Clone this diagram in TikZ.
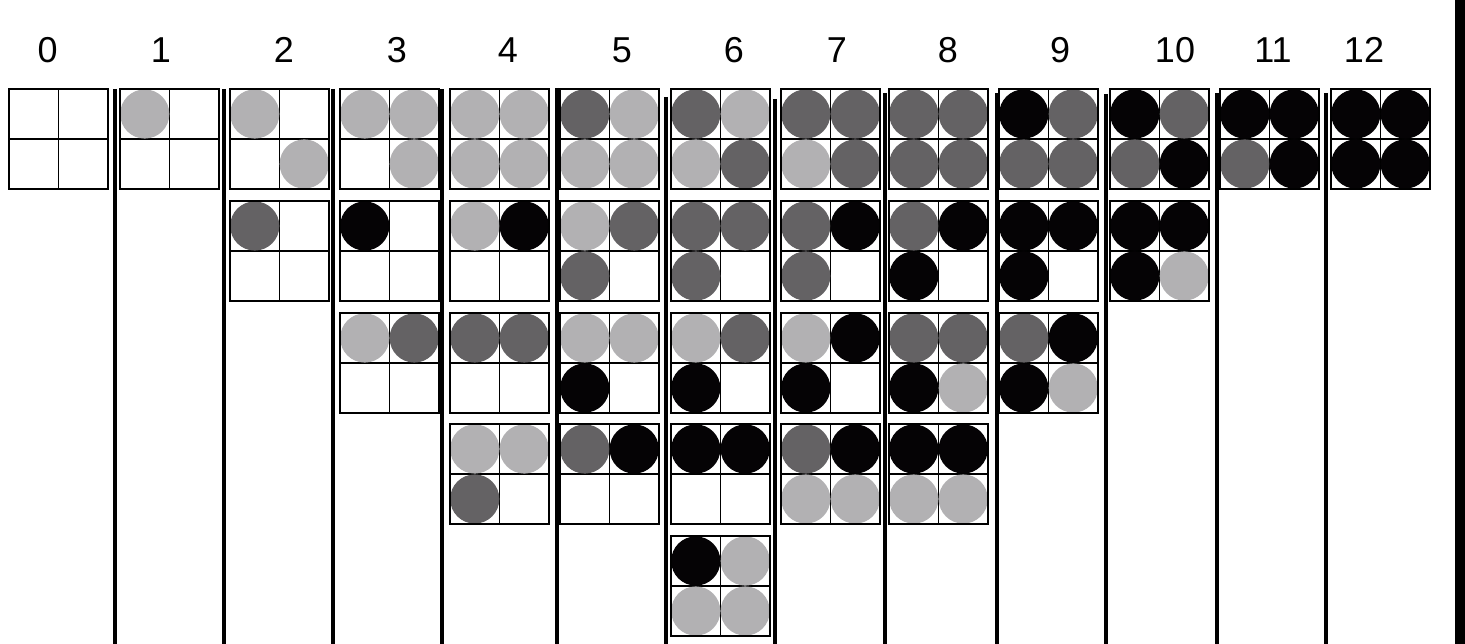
\documentclass[tikz,border=0pt]{standalone}
\usepackage{fontspec}
\setmainfont{Liberation Sans}
\definecolor{cL}{HTML}{B2B1B3}
\definecolor{cD}{HTML}{646264}
\definecolor{cB}{HTML}{050305}
\tikzset{
  fE/.style={},
  fL/.style={fill=cL},
  fD/.style={fill=cD},
  fB/.style={fill=cB},
  gridline/.style={draw=black, line width=1.3pt},
  sepline/.style={draw=black, line width=3.6pt},
  lbl/.style={font=\fontsize{36}{40}\selectfont, inner sep=0pt, anchor=center}
}
\begin{document}
\begin{tikzpicture}[x=1pt,y=-1pt]
\useasboundingbox (0,0) rectangle (1465,644);
\fill[white] (0,0) rectangle (1465,644);
% labels
\foreach \i/\lx in {0/47.7,1/161,2/284,3/397,4/508,5/622,6/734,7/837,8/948,9/1060,10/1175,11/1273,12/1364}{
  \node[lbl] (lab\i) at (\lx,50) {\i};
}
% separators
\foreach \sx/\st in {115/89,224/89,333/89,442/89,557/88,666/97,775/99,885/93,997/93,1106/94,1217/93,1326/93}{
  \draw[sepline] (\sx,\st) -- (\sx,644);
}
\fill[black] (1455,0) rectangle (1465,644);
% grids
\foreach \c/\r/\a/\b/\cc/\d in {
 0/0/E/E/E/E,
 1/0/L/E/E/E,
 2/0/L/E/E/L, 2/1/D/E/E/E,
 3/0/L/L/E/L, 3/1/B/E/E/E, 3/2/L/D/E/E,
 4/0/L/L/L/L, 4/1/L/B/E/E, 4/2/D/D/E/E, 4/3/L/L/D/E,
 5/0/D/L/L/L, 5/1/L/D/D/E, 5/2/L/L/B/E, 5/3/D/B/E/E,
 6/0/D/L/L/D, 6/1/D/D/D/E, 6/2/L/D/B/E, 6/3/B/B/E/E, 6/4/B/L/L/L,
 7/0/D/D/L/D, 7/1/D/B/D/E, 7/2/L/B/B/E, 7/3/D/B/L/L,
 8/0/D/D/D/D, 8/1/D/B/B/E, 8/2/D/D/B/L, 8/3/B/B/L/L,
 9/0/B/D/D/D, 9/1/B/B/B/E, 9/2/D/B/B/L,
 10/0/B/D/D/B, 10/1/B/B/B/L,
 11/0/B/B/D/B,
 12/0/B/B/B/B}{
  \pgfmathsetmacro\gx{{9,120,230,340,450,560,671,781,889,999,1110,1220,1331}[\c]}
  \pgfmathsetmacro\gy{{89,201,313,424,536}[\r]}
  \draw[gridline] (\gx+49.5,\gy) -- ++(0,100);
  \draw[gridline] (\gx,\gy+50) -- ++(99,0);
  \path[f\a] (\gx+24.75,\gy+25) circle[radius=24.6];
  \path[f\b] (\gx+74.25,\gy+25) circle[radius=24.6];
  \path[f\cc] (\gx+24.75,\gy+75) circle[radius=24.6];
  \path[f\d] (\gx+74.25,\gy+75) circle[radius=24.6];
  \draw[gridline] (\gx,\gy) rectangle ++(99,100);
}
\end{tikzpicture}
\end{document}
